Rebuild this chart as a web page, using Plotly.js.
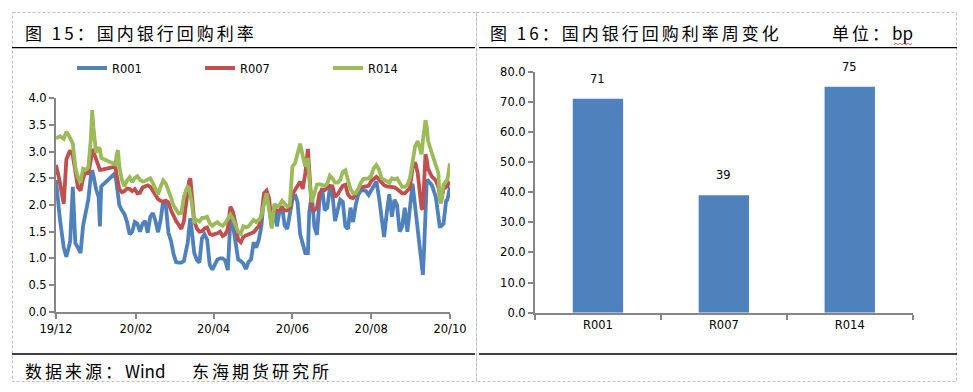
<!DOCTYPE html>
<html>
<head>
<meta charset="utf-8">
<script src="https://cdn.plot.ly/plotly-3.0.1.min.js"></script>
<style>
  html, body { margin: 0; padding: 0; background: #fff; }
  #chart { width: 973px; height: 392px; }
  .annotation-text[style*="CJK"] { letter-spacing: 3px; }
</style>
</head>
<body>
<div id="chart"></div>
<script>
// ---------- data ----------
const dates = [
 '2019-12-19','2019-12-22','2019-12-25','2019-12-27','2019-12-29','2019-12-30','2020-01-01','2020-01-03','2020-01-05','2020-01-07',
 '2020-01-09','2020-01-11','2020-01-13','2020-01-15','2020-01-16','2020-01-17','2020-01-19','2020-01-21','2020-01-22','2020-01-23',
 '2020-02-03','2020-02-04','2020-02-05','2020-02-06','2020-02-08','2020-02-10','2020-02-12','2020-02-14','2020-02-16','2020-02-18',
 '2020-02-20','2020-02-22','2020-02-24','2020-02-26','2020-02-28','2020-03-01','2020-03-03','2020-03-05','2020-03-07','2020-03-09',
 '2020-03-11','2020-03-13','2020-03-15','2020-03-17','2020-03-19','2020-03-21','2020-03-23','2020-03-25','2020-03-27','2020-03-29',
 '2020-03-30','2020-03-31','2020-04-01','2020-04-02','2020-04-04','2020-04-06','2020-04-08','2020-04-10','2020-04-12','2020-04-14',
 '2020-04-16','2020-04-18','2020-04-20','2020-04-22','2020-04-24','2020-04-26','2020-04-28','2020-04-30','2020-05-02','2020-05-04',
 '2020-05-06','2020-05-08','2020-05-10','2020-05-12','2020-05-14','2020-05-16','2020-05-18','2020-05-20','2020-05-22','2020-05-24',
 '2020-05-26','2020-05-28','2020-05-30','2020-06-01','2020-06-03','2020-06-05','2020-06-07','2020-06-09','2020-06-11','2020-06-13',
 '2020-06-15','2020-06-17','2020-06-19','2020-06-21','2020-06-23','2020-06-25','2020-06-27','2020-06-29','2020-07-01','2020-07-02',
 '2020-07-04','2020-07-06','2020-07-08','2020-07-10','2020-07-12','2020-07-14','2020-07-16','2020-07-18','2020-07-20','2020-07-22',
 '2020-07-24','2020-07-26','2020-07-28','2020-07-30','2020-08-01','2020-08-03','2020-08-05','2020-08-07','2020-08-09','2020-08-11',
 '2020-08-13','2020-08-15','2020-08-17','2020-08-19','2020-08-21','2020-08-23','2020-08-25','2020-08-27','2020-08-29','2020-08-31',
 '2020-09-02','2020-09-04','2020-09-06','2020-09-08','2020-09-10','2020-09-12','2020-09-14','2020-09-16','2020-09-18','2020-09-20',
 '2020-09-22','2020-09-24','2020-09-26','2020-09-27','2020-09-28','2020-09-29','2020-09-30','2020-10-01','2020-10-02','2020-10-05',
 '2020-10-08','2020-10-10','2020-10-11','2020-10-12','2020-10-14','2020-10-16','2020-10-17','2020-10-19'
];
const r001 = [
 2.47,1.74,1.20,1.03,1.22,1.32,2.34,1.28,1.20,1.10,
 1.62,1.85,2.10,2.55,2.65,2.55,2.30,2.15,1.60,2.35,
 2.60,2.38,2.15,2.00,1.90,1.83,1.68,1.45,1.50,1.68,
 1.65,1.50,1.65,1.70,1.48,1.78,1.85,1.70,1.49,1.72,
 2.08,2.00,1.48,1.33,1.08,0.93,0.92,0.92,0.95,1.15,
 1.30,1.55,1.75,1.55,1.10,0.97,0.92,1.38,1.45,1.35,
 0.88,0.79,0.90,0.98,1.00,1.00,0.96,0.78,1.72,1.62,
 1.30,0.98,0.95,0.90,0.80,0.93,0.98,1.30,1.20,1.35,
 1.60,2.16,2.20,1.98,1.60,1.95,1.60,1.88,1.97,1.62,
 1.55,1.80,2.10,2.20,2.05,1.45,1.30,1.10,1.10,1.85,
 2.20,1.60,1.44,2.10,2.32,1.90,1.95,2.32,2.20,1.70,
 1.90,2.10,2.06,1.60,1.55,1.95,1.68,2.00,2.20,2.27,
 2.28,2.26,2.19,2.28,2.38,2.44,2.15,1.75,1.40,1.85,
 2.20,1.78,2.10,2.00,1.50,1.60,1.95,1.50,1.97,2.40,
 1.97,1.50,1.10,0.85,0.69,1.20,2.00,2.45,2.46,2.37,
 2.15,1.75,1.60,1.60,1.65,2.08,2.10,2.34
];
const r007 = [
 2.75,2.43,2.02,2.85,2.98,3.02,2.93,2.58,2.33,2.27,
 2.50,2.64,2.58,2.85,3.05,3.00,2.84,2.72,2.66,2.66,
 2.72,2.55,2.42,2.30,2.24,2.26,2.31,2.30,2.26,2.30,
 2.22,2.23,2.33,2.35,2.37,2.34,2.27,2.20,2.11,2.08,
 2.06,2.08,2.05,1.90,1.78,1.70,1.63,1.55,1.70,2.10,
 2.30,2.45,2.50,2.25,1.70,1.56,1.50,1.51,1.56,1.58,
 1.46,1.44,1.45,1.47,1.50,1.42,1.45,1.55,1.97,1.87,
 1.65,1.35,1.30,1.40,1.43,1.45,1.47,1.49,1.55,1.60,
 1.80,2.22,2.27,2.12,1.62,1.97,1.88,1.90,1.95,1.90,
 1.90,1.94,2.20,2.28,2.35,2.44,2.30,2.60,3.05,2.60,
 1.92,1.90,1.95,2.22,2.28,2.28,2.31,2.36,2.35,2.15,
 2.20,2.30,2.36,2.38,2.20,2.14,2.13,2.20,2.30,2.33,
 2.34,2.34,2.36,2.45,2.50,2.53,2.48,2.41,2.37,2.35,
 2.34,2.34,2.33,2.30,2.26,2.22,2.22,2.27,2.32,2.70,
 2.80,2.60,2.05,1.94,1.92,2.35,2.95,2.85,2.68,2.53,
 2.46,2.34,2.15,2.05,2.30,2.33,2.36,2.44
];
const r014 = [
 3.25,3.29,3.24,3.37,3.30,3.26,3.15,2.70,2.52,2.42,
 2.68,2.66,2.70,3.25,3.78,3.45,2.98,3.08,3.04,2.88,
 2.76,2.95,3.03,2.72,2.47,2.35,2.46,2.52,2.43,2.51,
 2.54,2.47,2.44,2.45,2.48,2.50,2.41,2.32,2.20,2.35,
 2.46,2.40,2.28,2.14,1.99,1.90,1.84,1.85,2.15,2.30,
 2.34,2.32,2.20,2.05,1.66,1.72,1.69,1.76,1.76,1.78,
 1.66,1.61,1.65,1.68,1.63,1.61,1.66,1.76,1.82,1.74,
 1.62,1.50,1.46,1.60,1.58,1.60,1.66,1.72,1.68,1.72,
 1.80,2.05,2.22,1.90,1.56,2.02,1.97,2.00,2.08,2.02,
 1.97,2.00,2.72,2.78,2.98,3.15,2.92,2.72,2.88,2.50,
 2.05,2.20,2.38,2.39,2.37,2.36,2.40,2.55,2.50,2.42,
 2.42,2.47,2.62,2.65,2.47,2.30,2.22,2.22,2.30,2.42,
 2.49,2.50,2.50,2.55,2.69,2.75,2.67,2.50,2.47,2.43,
 2.42,2.50,2.48,2.50,2.40,2.34,2.34,2.38,2.50,2.80,
 3.10,3.20,3.00,2.95,3.20,3.45,3.59,3.47,3.20,2.97,
 2.74,2.60,2.10,2.03,2.38,2.47,2.48,2.78
];
const lineNames = ['R001','R007','R014'];
const xTickVals = ['2019-12-19','2020-02-19','2020-04-19','2020-06-19','2020-08-19','2020-10-19'];
const xTickText = ['19/12','20/02','20/04','20/06','20/08','20/10'];

const barCats = ['R001','R007','R014'];
const barVals = [71, 39, 75];

// ---------- helpers (page pixel -> paper fraction) ----------
const W = 973, H = 392;
const px = x => x / W;
const py = y => 1 - y / H;

const colors = ['#4F81BD', '#C0504D', '#9BBB59'];
const axisGray = '#868686';
const tickFont = { family: 'DejaVu Sans, Verdana, sans-serif', size: 11.5, color: '#000' };
const cjkFont = { family: 'Noto Sans CJK SC', size: 17, color: '#000' };
const latin = s => '<span style="letter-spacing:0px">' + s + '</span>';

const series = [r001, r007, r014];
const traces = series.map((vals, i) => ({
  type: 'scatter', mode: 'lines', x: dates, y: vals, name: lineNames[i],
  line: { color: colors[i], width: 3.8 }, xaxis: 'x', yaxis: 'y'
}));
traces.push({
  type: 'bar', x: barCats, y: barVals, marker: { color: '#4F81BD' },
  xaxis: 'x2', yaxis: 'y2', showlegend: false, hoverinfo: 'skip'
});

const annotations = [
  { text: '图 15：国内银行回购利率', x: px(23), y: py(33), xref: 'paper', yref: 'paper', xanchor: 'left', yanchor: 'middle', showarrow: false, font: cjkFont },
  { text: '图 16：国内银行回购利率周变化', x: px(488), y: py(33), xref: 'paper', yref: 'paper', xanchor: 'left', yanchor: 'middle', showarrow: false, font: cjkFont },
  { text: '单位：' + latin('bp'), x: px(830), y: py(33), xref: 'paper', yref: 'paper', xanchor: 'left', yanchor: 'middle', showarrow: false, font: cjkFont },
  { text: '数据来源：' + latin('Wind'), x: px(23), y: py(370), xref: 'paper', yref: 'paper', xanchor: 'left', yanchor: 'middle', showarrow: false, font: cjkFont },
  { text: '东海期货研究所', x: px(190), y: py(370), xref: 'paper', yref: 'paper', xanchor: 'left', yanchor: 'middle', showarrow: false, font: cjkFont }
];
barCats.forEach((c, i) => annotations.push({
  text: String(barVals[i]), x: c, y: barVals[i], xref: 'x2', yref: 'y2',
  yanchor: 'middle', yshift: 20, showarrow: false,
  font: { family: 'DejaVu Sans, Verdana, sans-serif', size: 11.5, color: '#000' }
}));

const dashed = { color: '#BFBFBF', width: 1, dash: '3px,2px' };
const solid = { color: '#000', width: 1.3 };

// red spell-check squiggle under "bp" (decoration)
let sq = 'M' + px(894) + ',' + py(44.5);
for (let xx = 896, k = 0; xx <= 912; xx += 2, k++) sq += ' L' + px(xx) + ',' + py(k % 2 === 0 ? 43.3 : 44.7);

const shapes = [
  { type: 'rect', xref: 'paper', yref: 'paper', x0: px(12.5), x1: px(476.5), y0: py(12.5), y1: py(381.5), line: dashed },
  { type: 'rect', xref: 'paper', yref: 'paper', x0: px(476.5), x1: px(956.5), y0: py(12.5), y1: py(381.5), line: dashed },
  { type: 'line', xref: 'paper', yref: 'paper', x0: px(12), x1: px(475), y0: py(47.7), y1: py(47.7), line: solid },
  { type: 'line', xref: 'paper', yref: 'paper', x0: px(479), x1: px(957), y0: py(47.7), y1: py(47.7), line: solid },
  { type: 'line', xref: 'paper', yref: 'paper', x0: px(12), x1: px(475), y0: py(354), y1: py(354), line: solid },
  { type: 'line', xref: 'paper', yref: 'paper', x0: px(479), x1: px(957), y0: py(354), y1: py(354), line: solid },
  { type: 'path', xref: 'paper', yref: 'paper', path: sq, line: { color: '#E03030', width: 0.8 } }
];

const layout = {
  width: W, height: H,
  margin: { l: 0, r: 0, t: 0, b: 0 },
  paper_bgcolor: '#fff', plot_bgcolor: '#fff',
  showlegend: true,
  legend: {
    orientation: 'h', x: px(72), y: py(68), xanchor: 'left', yanchor: 'middle',
    font: tickFont, entrywidth: 83, entrywidthmode: 'pixels',
    bgcolor: 'rgba(0,0,0,0)', borderwidth: 0, traceorder: 'normal'
  },
  xaxis: {
    domain: [px(56), px(450)], type: 'date',
    range: ['2019-12-19', '2020-10-19'],
    tickmode: 'array', tickvals: xTickVals, ticktext: xTickText,
    ticks: 'outside', ticklen: 5, tickwidth: 2, tickcolor: axisGray,
    showline: true, linecolor: axisGray, linewidth: 2,
    showgrid: false, zeroline: false, tickfont: tickFont, anchor: 'y'
  },
  yaxis: {
    domain: [py(311.7), py(98.3)], range: [0, 4], dtick: 0.5, tick0: 0, tickformat: '.1f',
    ticks: 'outside', ticklen: 5, tickwidth: 2, tickcolor: axisGray,
    showline: true, linecolor: axisGray, linewidth: 2,
    showgrid: false, zeroline: false, tickfont: tickFont, anchor: 'x'
  },
  xaxis2: {
    domain: [px(535), px(912.7)], type: 'category',
    ticks: 'outside', tickson: 'boundaries', ticklen: 5, tickwidth: 2, tickcolor: axisGray,
    showline: true, linecolor: axisGray, linewidth: 2,
    showgrid: false, zeroline: false, tickfont: tickFont, anchor: 'y2'
  },
  yaxis2: {
    domain: [py(312.7), py(71.7)], range: [0, 80], dtick: 10, tick0: 0, tickformat: '.1f',
    ticks: 'outside', ticklen: 5, tickwidth: 2, tickcolor: axisGray,
    showline: true, linecolor: axisGray, linewidth: 2,
    showgrid: false, zeroline: false, tickfont: tickFont, anchor: 'x2'
  },
  bargap: 0.6,
  annotations: annotations,
  shapes: shapes
};

Plotly.newPlot('chart', traces, layout, { displayModeBar: false, staticPlot: true });
</script>
</body>
</html>
